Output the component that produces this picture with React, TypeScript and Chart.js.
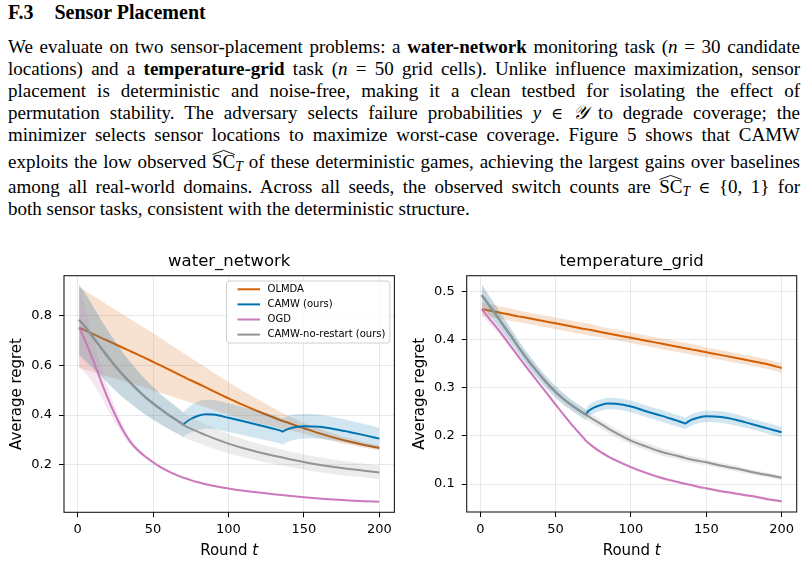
import React, { useEffect, useRef } from "react";
import { Chart, registerables } from "chart.js";

Chart.register(...registerables);

// ---------------- data ----------------
const ROUNDS = [1, 5, 10, 15, 20, 25, 30, 35, 40, 45, 50, 55, 60, 65, 69, 70, 71, 75, 80, 85, 90, 100, 110, 120, 130, 135, 136, 137, 140, 145, 150, 160, 170, 180, 190, 200];

const X_TICKS = [0, 50, 100, 150, 200];
const WATER_Y_TICKS = [0.2, 0.4, 0.6, 0.8];
const TEMP_Y_TICKS = [0.1, 0.2, 0.3, 0.4, 0.5];

const METHODS = ["OLMDA", "CAMW (ours)", "OGD", "CAMW-no-restart (ours)"];
const COLORS = ["#d55e00", "#0173b2", "#cc78bc", "#949494"];

// water_network
const WATER_OLMDA = [0.752, 0.741, 0.727, 0.713, 0.699, 0.685, 0.671, 0.657, 0.643, 0.629, 0.614, 0.6, 0.585, 0.57, 0.558, 0.555, 0.552, 0.54, 0.526, 0.511, 0.496, 0.467, 0.44, 0.414, 0.39, 0.378, 0.376, 0.374, 0.368, 0.357, 0.347, 0.327, 0.309, 0.293, 0.279, 0.267];
const WATER_OLMDA_SD = [0.163, 0.159, 0.154, 0.149, 0.144, 0.139, 0.134, 0.129, 0.124, 0.119, 0.115, 0.11, 0.105, 0.1, 0.096, 0.095, 0.094, 0.09, 0.085, 0.08, 0.075, 0.066, 0.056, 0.047, 0.037, 0.033, 0.032, 0.031, 0.028, 0.025, 0.022, 0.019, 0.016, 0.013, 0.011, 0.01];
const WATER_CAMW = [0.783, 0.755, 0.715, 0.675, 0.635, 0.597, 0.562, 0.53, 0.5, 0.472, 0.447, 0.424, 0.402, 0.382, 0.366, 0.361, 0.367, 0.384, 0.397, 0.403, 0.402, 0.389, 0.375, 0.36, 0.345, 0.336, 0.333, 0.337, 0.345, 0.352, 0.355, 0.353, 0.344, 0.332, 0.319, 0.305];
const WATER_CAMW_SD = [0.142, 0.135, 0.125, 0.115, 0.106, 0.098, 0.09, 0.083, 0.077, 0.071, 0.066, 0.061, 0.057, 0.053, 0.05, 0.05, 0.05, 0.054, 0.057, 0.058, 0.058, 0.057, 0.056, 0.055, 0.054, 0.053, 0.053, 0.053, 0.052, 0.051, 0.05, 0.049, 0.047, 0.046, 0.045, 0.044];
const WATER_OGD = [0.752, 0.7, 0.625, 0.545, 0.468, 0.4, 0.34, 0.292, 0.258, 0.232, 0.21, 0.19, 0.174, 0.16, 0.15, 0.148, 0.146, 0.138, 0.129, 0.121, 0.115, 0.104, 0.095, 0.088, 0.081, 0.078, 0.0775, 0.077, 0.075, 0.072, 0.069, 0.064, 0.06, 0.056, 0.053, 0.051];
const WATER_OGD_SD = [0.16, 0.13, 0.095, 0.065, 0.045, 0.03, 0.02, 0.013, 0.009, 0.007, 0.006, 0.005, 0.005, 0.004, 0.004, 0.004, 0.004, 0.004, 0.003, 0.003, 0.003, 0.003, 0.003, 0.003, 0.002, 0.002, 0.002, 0.002, 0.002, 0.002, 0.002, 0.002, 0.002, 0.002, 0.002, 0.002];
const WATER_NORESTART = [0.783, 0.755, 0.715, 0.675, 0.635, 0.597, 0.562, 0.53, 0.5, 0.472, 0.447, 0.424, 0.402, 0.382, 0.366, 0.361, 0.357, 0.345, 0.332, 0.319, 0.307, 0.285, 0.266, 0.25, 0.236, 0.23, 0.229, 0.227, 0.223, 0.217, 0.211, 0.2, 0.191, 0.183, 0.176, 0.169];
const WATER_NORESTART_SD = [0.142, 0.135, 0.125, 0.115, 0.106, 0.098, 0.09, 0.083, 0.077, 0.071, 0.066, 0.061, 0.057, 0.053, 0.05, 0.05, 0.049, 0.047, 0.045, 0.043, 0.042, 0.039, 0.036, 0.034, 0.033, 0.032, 0.032, 0.032, 0.031, 0.031, 0.03, 0.03, 0.029, 0.029, 0.028, 0.028];

// temperature_grid
const TEMP_OLMDA = [0.463, 0.4605, 0.4575, 0.4545, 0.4515, 0.448, 0.4455, 0.4425, 0.4395, 0.4365, 0.4335, 0.4305, 0.4275, 0.4245, 0.422, 0.4215, 0.421, 0.4185, 0.4155, 0.4125, 0.4095, 0.4035, 0.3975, 0.3915, 0.3855, 0.3825, 0.382, 0.3815, 0.3795, 0.3765, 0.3735, 0.3675, 0.3615, 0.3555, 0.349, 0.341];
const TEMP_OLMDA_SD = [0.014, 0.014, 0.013, 0.013, 0.013, 0.012, 0.012, 0.012, 0.012, 0.012, 0.012, 0.012, 0.012, 0.012, 0.012, 0.012, 0.012, 0.012, 0.011, 0.011, 0.011, 0.011, 0.011, 0.011, 0.011, 0.011, 0.011, 0.011, 0.011, 0.011, 0.01, 0.01, 0.01, 0.01, 0.01, 0.01];
const TEMP_CAMW = [0.492, 0.475, 0.453, 0.431, 0.409, 0.386, 0.364, 0.344, 0.325, 0.307, 0.291, 0.277, 0.265, 0.254, 0.246, 0.244, 0.249, 0.258, 0.264, 0.267, 0.2665, 0.261, 0.251, 0.242, 0.232, 0.227, 0.2255, 0.2275, 0.233, 0.238, 0.2405, 0.239, 0.233, 0.2245, 0.216, 0.2075];
const TEMP_CAMW_SD = [0.022, 0.02, 0.018, 0.016, 0.015, 0.014, 0.013, 0.013, 0.012, 0.012, 0.012, 0.012, 0.011, 0.011, 0.011, 0.011, 0.011, 0.012, 0.012, 0.012, 0.012, 0.012, 0.012, 0.012, 0.012, 0.012, 0.012, 0.012, 0.012, 0.012, 0.012, 0.012, 0.012, 0.011, 0.011, 0.011];
const TEMP_OGD = [0.463, 0.447, 0.428, 0.408, 0.387, 0.366, 0.345, 0.325, 0.305, 0.285, 0.265, 0.245, 0.226, 0.208, 0.194, 0.19, 0.187, 0.177, 0.166, 0.157, 0.149, 0.135, 0.123, 0.113, 0.105, 0.101, 0.1005, 0.0998, 0.098, 0.094, 0.091, 0.085, 0.08, 0.075, 0.069, 0.064];
const TEMP_OGD_SD = [0.012, 0.01, 0.008, 0.007, 0.006, 0.005, 0.005, 0.004, 0.004, 0.004, 0.003, 0.003, 0.003, 0.003, 0.003, 0.003, 0.003, 0.003, 0.003, 0.003, 0.003, 0.003, 0.003, 0.003, 0.003, 0.003, 0.003, 0.003, 0.003, 0.003, 0.003, 0.003, 0.003, 0.003, 0.003, 0.003];
const TEMP_NORESTART = [0.492, 0.475, 0.453, 0.431, 0.409, 0.386, 0.364, 0.344, 0.325, 0.307, 0.291, 0.277, 0.265, 0.254, 0.246, 0.244, 0.242, 0.234, 0.225, 0.215, 0.206, 0.19, 0.178, 0.167, 0.159, 0.155, 0.154, 0.153, 0.151, 0.148, 0.145, 0.138, 0.132, 0.125, 0.119, 0.113];
const TEMP_NORESTART_SD = [0.022, 0.02, 0.018, 0.016, 0.015, 0.014, 0.013, 0.013, 0.012, 0.012, 0.012, 0.012, 0.011, 0.011, 0.011, 0.011, 0.01, 0.01, 0.009, 0.009, 0.009, 0.008, 0.008, 0.008, 0.007, 0.007, 0.007, 0.007, 0.007, 0.007, 0.006, 0.006, 0.006, 0.005, 0.005, 0.005];

// ---------------- styling / layout ----------------
const SANS = "'DejaVu Sans', 'Noto Sans', sans-serif";
const SERIF = "'Liberation Serif', 'Times New Roman', serif";

type Panel = {
  title: string;
  yMin: number;
  yMax: number;
  yTicks: number[];
  means: number[][];
  sds: number[][];
  legend: boolean;
  box: { left: number; top: number; width: number; height: number };
  yWidth: number;
  padTop: number;
  padRight: number;
  xHeight: number;
  yTitlePad: number;
};

const PANELS: Panel[] = [
  {
    title: "water_network",
    yMin: 0.0083,
    yMax: 0.961,
    yTicks: WATER_Y_TICKS,
    means: [WATER_OLMDA, WATER_CAMW, WATER_OGD, WATER_NORESTART],
    sds: [WATER_OLMDA_SD, WATER_CAMW_SD, WATER_OGD_SD, WATER_NORESTART_SD],
    legend: true,
    box: { left: 0, top: 240, width: 403, height: 322 },
    yWidth: 64,
    padTop: 35.7,
    padRight: 8.6,
    xHeight: 49.7,
    yTitlePad: 7.7,
  },
  {
    title: "temperature_grid",
    yMin: 0.0419,
    yMax: 0.5324,
    yTicks: TEMP_Y_TICKS,
    means: [TEMP_OLMDA, TEMP_CAMW, TEMP_OGD, TEMP_NORESTART],
    sds: [TEMP_OLMDA_SD, TEMP_CAMW_SD, TEMP_OGD_SD, TEMP_NORESTART_SD],
    legend: false,
    box: { left: 400, top: 240, width: 406, height: 322 },
    yWidth: 66.7,
    padTop: 35.7,
    padRight: 9.3,
    xHeight: 50,
    yTitlePad: 10.7,
  },
];

function rgba(hex: string, a: number) {
  const n = parseInt(hex.slice(1), 16);
  return `rgba(${(n >> 16) & 255},${(n >> 8) & 255},${n & 255},${a})`;
}

function buildDatasets(panel: Panel) {
  const ds: any[] = [];
  let order = 1000;
  panel.means.forEach((mean, i) => {
    const sd = panel.sds[i];
    const color = COLORS[i];
    const common = {
      pointRadius: 0,
      pointHoverRadius: 0,
      cubicInterpolationMode: "monotone",
    };
    ds.push({
      ...common,
      label: METHODS[i] + " lower",
      data: ROUNDS.map((t, k) => ({ x: t, y: mean[k] - sd[k] })),
      borderWidth: 0,
      borderColor: "rgba(0,0,0,0)",
      fill: false,
      order: order--,
    });
    ds.push({
      ...common,
      label: METHODS[i] + " upper",
      data: ROUNDS.map((t, k) => ({ x: t, y: mean[k] + sd[k] })),
      borderWidth: 0,
      borderColor: "rgba(0,0,0,0)",
      backgroundColor: rgba(color, 0.18),
      fill: "-1",
      order: order--,
    });
    ds.push({
      ...common,
      label: METHODS[i],
      data: ROUNDS.map((t, k) => ({ x: t, y: mean[k] })),
      borderColor: color,
      borderWidth: 2,
      fill: false,
      order: order--,
    });
  });
  return ds;
}

function decorPlugin(panel: Panel) {
  return {
    id: "decor",
    afterDraw(chart: any) {
      const { ctx, chartArea: a } = chart;
      ctx.save();
      // frame (spines)
      ctx.strokeStyle = "#1a1a1a";
      ctx.lineWidth = 1.1;
      ctx.strokeRect(a.left, a.top, a.right - a.left, a.bottom - a.top);
      // title
      ctx.fillStyle = "#000";
      ctx.textBaseline = "alphabetic";
      ctx.textAlign = "left";
      ctx.font = `16.5px ${SANS}`;
      const tw = ctx.measureText(panel.title).width;
      ctx.fillText(panel.title, (a.left + a.right) / 2 - tw / 2, a.top - 9.7);
      // x title "Round t"
      ctx.font = `15px ${SANS}`;
      const w1 = ctx.measureText("Round ").width;
      ctx.font = `italic 15px ${SANS}`;
      const w2 = ctx.measureText("t").width;
      const x0 = (a.left + a.right) / 2 - (w1 + w2) / 2;
      const by = a.bottom + 42.7;
      ctx.font = `15px ${SANS}`;
      ctx.fillText("Round ", x0, by);
      ctx.font = `italic 15px ${SANS}`;
      ctx.fillText("t", x0 + w1, by);
      // legend
      if (panel.legend) {
        ctx.font = `10px ${SANS}`;
        let maxW = 0;
        METHODS.forEach((m) => {
          maxW = Math.max(maxW, ctx.measureText(m).width);
        });
        const bw = 41 + maxW + 4.5;
        const bh = 62;
        const bx = a.right - 4.5 - bw;
        const by0 = a.top + 5.3;
        const r = 3;
        ctx.beginPath();
        ctx.moveTo(bx + r, by0);
        ctx.lineTo(bx + bw - r, by0);
        ctx.quadraticCurveTo(bx + bw, by0, bx + bw, by0 + r);
        ctx.lineTo(bx + bw, by0 + bh - r);
        ctx.quadraticCurveTo(bx + bw, by0 + bh, bx + bw - r, by0 + bh);
        ctx.lineTo(bx + r, by0 + bh);
        ctx.quadraticCurveTo(bx, by0 + bh, bx, by0 + bh - r);
        ctx.lineTo(bx, by0 + r);
        ctx.quadraticCurveTo(bx, by0, bx + r, by0);
        ctx.closePath();
        ctx.fillStyle = "rgba(255,255,255,0.8)";
        ctx.fill();
        ctx.strokeStyle = "#d0d0d0";
        ctx.lineWidth = 1;
        ctx.stroke();
        METHODS.forEach((m, i) => {
          const cy = by0 + 8.3 + i * 15.1;
          ctx.strokeStyle = COLORS[i];
          ctx.lineWidth = 2;
          ctx.beginPath();
          ctx.moveTo(bx + 11, cy);
          ctx.lineTo(bx + 33.5, cy);
          ctx.stroke();
          ctx.fillStyle = "#000";
          ctx.textBaseline = "middle";
          ctx.fillText(m, bx + 41, cy);
        });
      }
      ctx.restore();
    },
  };
}

function ChartPanel({ panel }: { panel: Panel }) {
  const ref = useRef<HTMLCanvasElement | null>(null);
  useEffect(() => {
    if (!ref.current) return;
    const chart = new Chart(ref.current, {
      type: "line",
      data: { datasets: buildDatasets(panel) },
      options: {
        responsive: false,
        animation: false,
        events: [],
        layout: { padding: { top: panel.padTop, right: panel.padRight, left: 0, bottom: 0 } },
        plugins: {
          legend: { display: false },
          tooltip: { enabled: false },
          title: { display: false },
        },
        scales: {
          x: {
            type: "linear",
            min: -9,
            max: 210,
            afterBuildTicks: (s: any) => {
              s.ticks = X_TICKS.map((v) => ({ value: v }));
            },
            afterFit: (s: any) => {
              s.height = panel.xHeight;
              s.paddingLeft = 0;
              s.paddingRight = 0;
            },
            grid: { color: "rgba(0,0,0,0.085)", lineWidth: 1, tickLength: 5, tickColor: "#000", drawTicks: true },
            border: { display: false },
            ticks: {
              font: { family: SANS, size: 13 },
              color: "#000",
              padding: 4.7,
              maxRotation: 0,
              autoSkip: false,
              callback: (v: any) => String(v),
            },
          },
          y: {
            type: "linear",
            min: panel.yMin,
            max: panel.yMax,
            afterBuildTicks: (s: any) => {
              s.ticks = panel.yTicks.map((v) => ({ value: v }));
            },
            afterFit: (s: any) => {
              s.width = panel.yWidth;
              s.paddingTop = 0;
              s.paddingBottom = 0;
            },
            grid: { color: "rgba(0,0,0,0.085)", lineWidth: 1, tickLength: 5, tickColor: "#000", drawTicks: true },
            border: { display: false },
            ticks: {
              font: { family: SANS, size: 13 },
              color: "#000",
              padding: 7,
              autoSkip: false,
              callback: (v: any) => Number(v).toFixed(1),
            },
            title: {
              display: true,
              text: "Average regret",
              font: { family: SANS, size: 15 },
              color: "#000",
              padding: { top: panel.yTitlePad, bottom: 0 },
            },
          },
        },
      },
      plugins: [decorPlugin(panel)],
    } as any);
    return () => chart.destroy();
  }, [panel]);
  return (
    <canvas
      ref={ref}
      width={panel.box.width}
      height={panel.box.height}
      style={{
        position: "absolute",
        left: panel.box.left,
        top: panel.box.top,
        width: panel.box.width,
        height: panel.box.height,
      }}
    />
  );
}

// ---------------- text ----------------
const LINE_BASELINES = [53, 75, 97, 119, 141, 168, 193, 215];
const FONT_PX = 19;

function TextLine({ baseline, justify = true, children }: { baseline: number; justify?: boolean; children: any }) {
  return (
    <div
      style={{
        position: "absolute",
        left: 8,
        width: 792,
        top: baseline - 17.4,
        height: 22,
        lineHeight: "22px",
        fontSize: FONT_PX,
        whiteSpace: "nowrap",
        textAlign: justify ? "justify" : "left",
        textAlignLast: justify ? "justify" : "auto",
      } as any}
    >
      {children}
    </div>
  );
}

function Hat({ children }: { children: any }) {
  return (
    <span style={{ position: "relative", display: "inline-block" }}>
      {children}
      <svg
        style={{ position: "absolute", left: 0, top: -1, width: "100%", height: 5, overflow: "visible" }}
        viewBox="0 0 24 5"
        preserveAspectRatio="none"
      >
        <path d="M0.5 4.6 L12 0.4 L23.5 4.6" fill="none" stroke="#000" strokeWidth={0.9} vectorEffect="non-scaling-stroke" />
      </svg>
    </span>
  );
}

function SCT() {
  return (
    <span>
      <Hat>SC</Hat>
      <span style={{ fontStyle: "italic", fontSize: "0.72em", position: "relative", top: "0.28em" }}>T</span>
    </span>
  );
}

const I = ({ children }: { children: any }) => <span style={{ fontStyle: "italic" }}>{children}</span>;
const In = () => <span style={{ fontFamily: "'DejaVu Serif', serif", fontSize: "0.85em" }}>∈</span>;

function Paragraph() {
  const b = LINE_BASELINES;
  return (
    <>
      <div
        style={{
          position: "absolute",
          left: 8,
          top: 19.3 - 18.2,
          height: 23,
          lineHeight: "23px",
          fontSize: 20,
          fontWeight: "bold",
          whiteSpace: "nowrap",
        }}
      >
        F.3<span style={{ display: "inline-block", width: 21 }} />Sensor Placement
      </div>
      <TextLine baseline={b[0]}>
        We evaluate on two sensor-placement problems: a <b>water-network</b> monitoring task (<I>n</I> = 30 candidate
      </TextLine>
      <TextLine baseline={b[1]}>
        locations) and a <b>temperature-grid</b> task (<I>n</I> = 50 grid cells). Unlike influence maximization, sensor
      </TextLine>
      <TextLine baseline={b[2]}>
        placement is deterministic and noise-free, making it a clean testbed for isolating the effect of
      </TextLine>
      <TextLine baseline={b[3]}>
        permutation stability. The adversary selects failure probabilities <I>y</I> <In /> <span style={{ fontStyle: "italic" }}>𝒴</span> to degrade coverage; the
      </TextLine>
      <TextLine baseline={b[4]}>
        minimizer selects sensor locations to maximize worst-case coverage. Figure 5 shows that CAMW
      </TextLine>
      <TextLine baseline={b[5]}>
        exploits the low observed <SCT /> of these deterministic games, achieving the largest gains over baselines
      </TextLine>
      <TextLine baseline={b[6]}>
        among all real-world domains. Across all seeds, the observed switch counts are <SCT /> <In /> {"{"}0, 1{"}"} for
      </TextLine>
      <TextLine baseline={b[7]} justify={false}>
        both sensor tasks, consistent with the deterministic structure.
      </TextLine>
    </>
  );
}

export default function App() {
  return (
    <div
      style={{
        position: "absolute",
        left: 0,
        top: 0,
        width: 806,
        height: 562,
        overflow: "hidden",
        background: "#fff",
        fontFamily: SERIF,
        color: "#000",
      }}
    >
      <Paragraph />
      {PANELS.map((p) => (
        <ChartPanel key={p.title} panel={p} />
      ))}
    </div>
  );
}
